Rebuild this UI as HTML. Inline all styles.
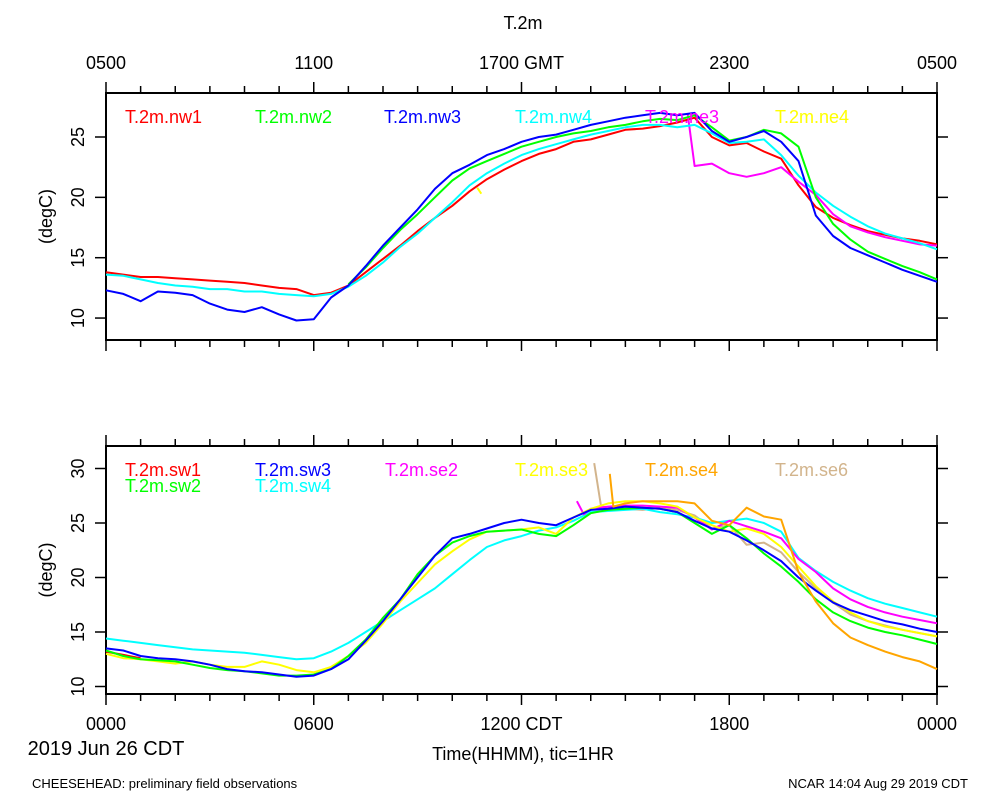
<!DOCTYPE html>
<html><head><meta charset="utf-8"><style>
body{margin:0;background:#fff;width:1000px;height:800px;overflow:hidden}
svg{font-family:"Liberation Sans",sans-serif}
</style></head><body>
<svg id="c" width="1000" height="800"></svg>
<script>
const hours=[0,0.5,1,1.5,2,2.5,3,3.5,4,4.5,5,5.5,6,6.5,7,7.5,8,8.5,9,9.5,10,10.5,11,11.5,12,12.5,13,13.5,14,14.5,15,15.5,16,16.5,17,17.5,18,18.5,19,19.5,20,20.5,21,21.5,22,22.5,23,23.5,24];
const N=null;
// top panel
const nw1=[13.8,13.6,13.4,13.4,13.3,13.2,13.1,13.0,12.9,12.7,12.5,12.4,11.9,12.1,12.7,13.8,14.9,16.0,17.2,18.3,19.3,20.5,21.5,22.3,23.0,23.6,24.0,24.6,24.8,25.2,25.6,25.7,25.9,26.2,26.6,25.0,24.3,24.5,23.8,23.2,21.0,19.2,18.3,17.7,17.2,16.9,16.6,16.4,16.1];
const nw2=[N,N,N,N,N,N,N,N,N,N,N,N,N,N,12.8,14.2,15.8,17.3,18.6,20.0,21.4,22.4,23.0,23.6,24.2,24.6,25.0,25.3,25.5,25.8,26.0,26.3,26.5,26.4,26.8,25.8,24.7,25.0,25.6,25.3,24.2,20.0,17.8,16.5,15.5,14.9,14.3,13.8,13.2];
const nw3=[12.3,12.0,11.4,12.2,12.1,11.9,11.2,10.7,10.5,10.9,10.3,9.8,9.9,11.7,12.7,14.3,16.0,17.5,19.0,20.7,22.0,22.7,23.5,24.0,24.6,25.0,25.2,25.6,26.0,26.3,26.6,26.8,27.0,26.8,27.0,25.5,24.6,25.0,25.5,24.6,23.0,18.5,16.8,15.8,15.2,14.6,14.0,13.5,13.0];
const nw4=[13.6,13.5,13.2,12.9,12.7,12.6,12.4,12.4,12.2,12.2,12.0,11.9,11.8,12.0,12.6,13.5,14.6,15.9,17.0,18.3,19.6,21.0,22.0,22.8,23.5,24.0,24.4,24.8,25.2,25.5,25.8,26.0,26.0,25.8,26.0,25.3,24.5,24.6,24.8,23.5,21.8,20.4,19.3,18.4,17.6,17.0,16.6,16.2,15.7];
const ne3Times=[16.8,17,17.5,18,18.5,19,19.5,20,20.5,21,21.5,22,22.5,23,23.5,24];
const ne3=[26.9,22.6,22.8,22.0,21.7,22.0,22.5,21.3,20.2,18.6,17.6,17.1,16.7,16.4,16.1,16.0];
const ne4Times=[10.72,10.84];
const ne4=[20.8,20.3];
// bottom panel
const sw1Times=[0,0.5,1];
const sw1=[13.2,12.9,12.6];
const sw2=[13.3,12.8,12.5,12.4,12.3,12.0,11.7,11.5,11.4,11.2,11.0,11.0,11.1,11.6,12.8,14.3,16.3,18.0,20.3,22.0,23.2,23.8,24.2,24.3,24.4,24.0,23.8,24.8,25.9,26.2,26.3,26.4,26.3,26.0,25.0,24.0,24.8,23.6,22.2,21.0,19.6,18.0,16.8,16.0,15.4,15.0,14.7,14.3,13.9];
const sw3=[13.5,13.3,12.8,12.6,12.5,12.3,12.0,11.6,11.4,11.3,11.1,10.9,11.0,11.6,12.5,14.2,16.0,18.0,20.0,22.0,23.6,24.0,24.5,25.0,25.3,25.0,24.8,25.5,26.2,26.3,26.5,26.4,26.3,26.0,25.2,24.5,24.2,23.4,22.5,21.5,20.0,18.8,17.7,17.0,16.5,16.0,15.7,15.3,15.0];
const sw4=[14.4,14.2,14.0,13.8,13.6,13.4,13.3,13.2,13.1,12.9,12.7,12.5,12.6,13.2,14.0,15.0,16.0,17.0,18.0,19.0,20.3,21.6,22.8,23.4,23.8,24.3,24.6,25.2,26.0,26.1,26.2,26.3,26.0,25.8,25.5,25.0,25.2,25.4,25.0,24.2,21.8,20.6,19.6,18.8,18.1,17.6,17.2,16.8,16.4];
const se2Times=[13.6,13.8,14,14.5,15,15.5,16,16.5,17,17.5,18,18.5,19,19.5,20,20.5,21,21.5,22,22.5,23,23.5,24];
const se2=[27.0,25.8,26.3,26.5,26.6,26.6,26.5,26.4,25.5,24.4,25.2,24.7,24.2,23.6,21.7,20.5,19.0,18.0,17.3,16.8,16.4,16.1,15.8];
const se3=[13.0,12.6,12.5,12.3,12.1,12.3,12.0,11.8,11.8,12.3,12.0,11.5,11.3,11.8,12.8,14.0,15.8,17.8,19.5,21.2,22.4,23.5,24.2,24.3,24.4,24.6,24.0,25.5,26.3,26.8,27.0,27.0,26.8,26.5,25.5,24.8,24.2,24.5,24.0,22.8,21.0,19.2,17.8,16.8,16.0,15.5,15.2,14.9,14.6];
const se4Times=[14.55,14.65,15,15.5,16,16.5,17,17.5,18,18.5,19,19.5,20,20.5,21,21.5,22,22.5,23,23.5,24];
const se4=[29.5,26.5,26.8,27.0,27.0,27.0,26.8,25.2,24.8,26.4,25.6,25.3,20.5,17.8,15.8,14.5,13.8,13.2,12.7,12.3,11.6];
const se6Times=[14.1,14.3,14.5,15,15.5,16,16.5,17,17.5,18,18.5,19,19.5,20,20.5,21,21.5,22,22.5,23,23.5,24];
const se6=[30.5,26.5,26.4,26.3,26.2,26.4,26.2,25.7,24.5,24.8,23.0,23.2,22.3,20.5,19.0,17.7,16.6,16.0,15.6,15.2,14.9,14.6];
const topYTicks=[10,15,20,25];
const botYTicks=[10,15,20,25,30];
const topXLabels=["0500","1100","1700 GMT","2300","0500"];
const botXLabels=["0000","0600","1200 CDT","1800","0000"];

const svg=document.getElementById('c');
const NS='http://www.w3.org/2000/svg';
function mk(tag,attrs,parent){const e=document.createElementNS(NS,tag);for(const k in attrs)e.setAttribute(k,attrs[k]);(parent||svg).appendChild(e);return e;}
const X0=106,X1=937;
function xs(h){return X0+h*(X1-X0)/24;}
const topP={y0:93,y1:340,ys:v=>137-(v-25)*12.07};
const botP={y0:446,y1:694,ys:v=>523-(v-25)*10.9};

function txt(x,y,s,size,anchor,color,name,rot){
  const t=mk('text',{x:x,y:y,'font-size':size,'text-anchor':anchor||'middle',fill:color||'#000'});
  if(rot)t.setAttribute('transform','rotate(-90 '+x+' '+y+')');
  t.textContent=s;
  
  
  return t;
}
function panel(p,yticks,name){
  const g=mk('g',{});
  
  
  const r=mk('rect',{x:X0,y:p.y0,width:X1-X0,height:p.y1-p.y0,fill:'none',stroke:'#000','stroke-width':2},g);
  
  
  for(let h=0;h<=24;h++){
    const x=xs(h);
    const L=h%6===0?11:7;
    mk('line',{x1:x,y1:p.y0,x2:x,y2:p.y0-L,stroke:'#000','stroke-width':1.5},g);
    mk('line',{x1:x,y1:p.y1,x2:x,y2:p.y1+L,stroke:'#000','stroke-width':1.5},g);
  }
  yticks.forEach(v=>{
    const y=p.ys(v);
    mk('line',{x1:X0-11,y1:y,x2:X0,y2:y,stroke:'#000','stroke-width':1.5},g);
    mk('line',{x1:X1,y1:y,x2:X1+11,y2:y,stroke:'#000','stroke-width':1.5},g);
    txt(84,y,String(v),18,'middle','#000','y-tick-label',true);
  });
  txt(52,(p.y0+p.y1)/2,'(degC)',18,'middle','#000','y-axis-title',true);
}
function series(p,times,vals,color,name){
  let d='',pen=false;
  for(let i=0;i<vals.length;i++){
    if(vals[i]===null){pen=false;continue;}
    d+=(pen?'L':'M')+xs(times[i]).toFixed(1)+','+p.ys(vals[i]).toFixed(1);
    pen=true;
  }
  const path=mk('path',{d:d,fill:'none',stroke:color,'stroke-width':2,'stroke-linejoin':'round'});
  
  
}
panel(topP,topYTicks,'top-panel');
panel(botP,botYTicks,'bottom-panel');

series(topP,ne4Times,ne4,'#ffff00','series-ne4');
series(topP,hours,nw1,'#ff0000','series-nw1');
series(topP,ne3Times,ne3,'#ff00ff','series-ne3');
series(topP,hours,nw4,'#00ffff','series-nw4');
series(topP,hours,nw2,'#00ff00','series-nw2');
series(topP,hours,nw3,'#0000ff','series-nw3');

series(botP,sw1Times,sw1,'#ff0000','series-sw1');
series(botP,se6Times,se6,'#d2b48c','series-se6');
series(botP,hours,sw4,'#00ffff','series-sw4');
series(botP,se2Times,se2,'#ff00ff','series-se2');
series(botP,hours,se3,'#ffff00','series-se3');
series(botP,hours,sw2,'#00ff00','series-sw2');
series(botP,hours,sw3,'#0000ff','series-sw3');
series(botP,se4Times,se4,'#ffa500','series-se4');

// legends
txt(125,123,'T.2m.nw1',18,'start','#ff0000','legend-nw1');
txt(255,123,'T.2m.nw2',18,'start','#00ff00','legend-nw2');
txt(384,123,'T.2m.nw3',18,'start','#0000ff','legend-nw3');
txt(515,123,'T.2m.nw4',18,'start','#00ffff','legend-nw4');
txt(645,123,'T.2m.ne3',18,'start','#ff00ff','legend-ne3');
txt(775,123,'T.2m.ne4',18,'start','#ffff00','legend-ne4');
txt(125,476,'T.2m.sw1',18,'start','#ff0000','legend-sw1');
txt(125,492,'T.2m.sw2',18,'start','#00ff00','legend-sw2');
txt(255,476,'T.2m.sw3',18,'start','#0000ff','legend-sw3');
txt(255,492,'T.2m.sw4',18,'start','#00ffff','legend-sw4');
txt(385,476,'T.2m.se2',18,'start','#ff00ff','legend-se2');
txt(515,476,'T.2m.se3',18,'start','#ffff00','legend-se3');
txt(645,476,'T.2m.se4',18,'start','#ffa500','legend-se4');
txt(775,476,'T.2m.se6',18,'start','#d2b48c','legend-se6');

txt(523,29,'T.2m',18,'middle','#000','chart-title');
topXLabels.forEach((s,i)=>txt(xs(i*6),69,s,18,'middle','#000','top-x-tick-label'));
botXLabels.forEach((s,i)=>txt(xs(i*6),730,s,18,'middle','#000','bottom-x-tick-label'));
txt(106,755,'2019 Jun 26 CDT',20,'middle','#000','date-label');
txt(523,760,'Time(HHMM), tic=1HR',18,'middle','#000','x-axis-title');
txt(32,788,'CHEESEHEAD: preliminary field observations',13,'start','#000','footer-left');
txt(968,788,'NCAR 14:04 Aug 29 2019 CDT',13,'end','#000','footer-right');
</script>
</body></html>
